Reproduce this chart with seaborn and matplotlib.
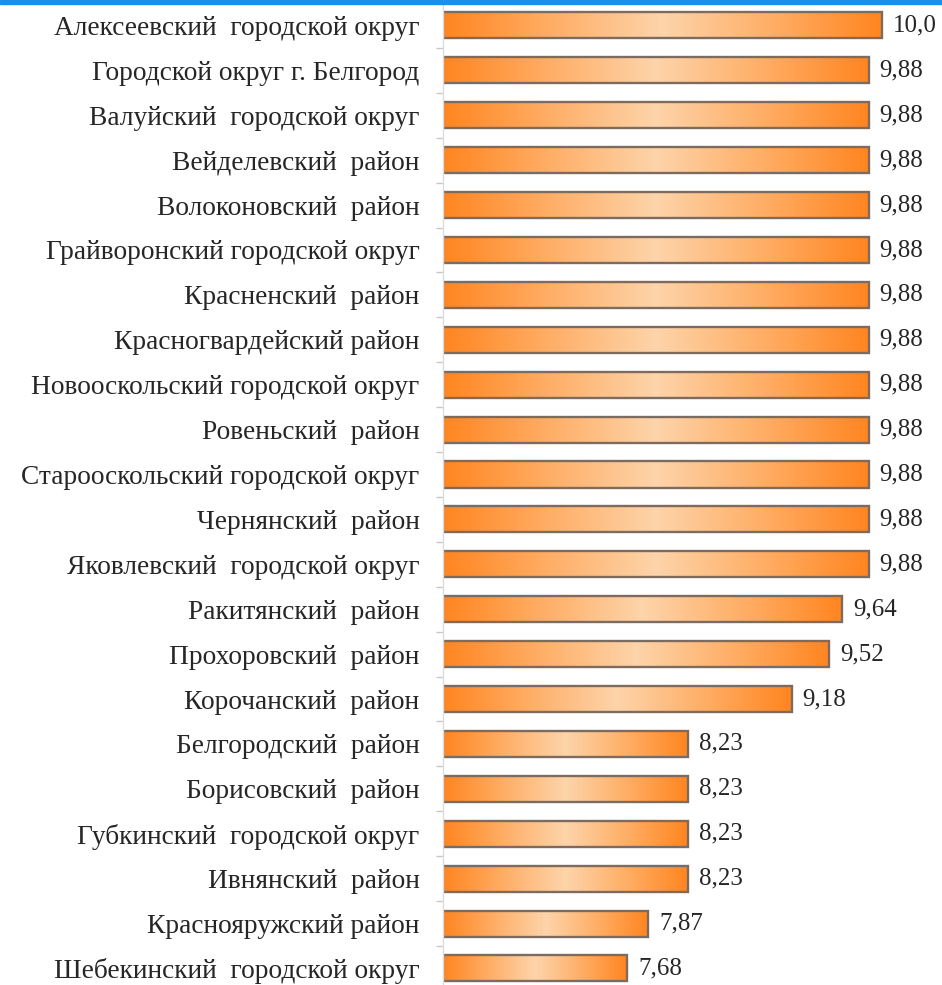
import numpy as np
import pandas as pd
import seaborn as sns
import matplotlib.pyplot as plt
from matplotlib.colors import LinearSegmentedColormap

districts = [
    "Алексеевский  городской округ",
    "Городской округ г. Белгород",
    "Валуйский  городской округ",
    "Вейделевский  район",
    "Волоконовский  район",
    "Грайворонский городской округ",
    "Красненский  район",
    "Красногвардейский район",
    "Новооскольский городской округ",
    "Ровеньский  район",
    "Старооскольский городской округ",
    "Чернянский  район",
    "Яковлевский  городской округ",
    "Ракитянский  район",
    "Прохоровский  район",
    "Корочанский  район",
    "Белгородский  район",
    "Борисовский  район",
    "Губкинский  городской округ",
    "Ивнянский  район",
    "Краснояружский район",
    "Шебекинский  городской округ",
]
scores = [10.0, 9.88, 9.88, 9.88, 9.88, 9.88, 9.88, 9.88, 9.88, 9.88, 9.88,
          9.88, 9.88, 9.64, 9.52, 9.18, 8.23, 8.23, 8.23, 8.23, 7.87, 7.68]
score_labels = ["10,0"] + [f"{v:.2f}".replace(".", ",") for v in scores[1:]]
x_start = 6.0

df = pd.DataFrame({"district": districts, "score": scores})

sns.set_theme(style="white")
plt.rcParams["font.family"] = ["Liberation Serif", "DejaVu Serif"]

fig = plt.figure(figsize=(9.42, 9.85), dpi=100)
ax = fig.add_axes([443 / 942, -0.006, 1 - 443 / 942, 1 - 3 / 985 + 0.006])

sns.barplot(data=df, y="district", x="score", orient="h", ax=ax,
            color="#ff8c2a", width=0.58, edgecolor="#7d6b5f", linewidth=1.7)

# horizontal orange gradient inside each bar (bars start at the axis, x=6)
grad = LinearSegmentedColormap.from_list(
    "orng", ["#ff8520", "#ffae66", "#fdd4aa", "#ffae66", "#ff8520"])
g = np.linspace(0, 1, 256).reshape(1, -1)
for bar in ax.patches:
    w = bar.get_width()
    bar.set_x(x_start)
    bar.set_width(w - x_start)
    y0, h = bar.get_y(), bar.get_height()
    im = ax.imshow(g, cmap=grad, aspect="auto",
                   extent=[x_start, w, y0 + h, y0],
                   zorder=bar.get_zorder() + 0.1)
    im.set_clip_path(bar)
    bar.set_facecolor("none")
    bar.set_zorder(bar.get_zorder() + 0.2)
ax.set_xlim(x_start, 10.55)
ax.set_ylim(len(districts) - 0.5, -0.5)
ax.set_xlabel("")
ax.set_ylabel("")
ax.set_xticks([])

for i, (v, lab) in enumerate(zip(scores, score_labels)):
    ax.text(v + 0.1, i, lab, va="center", ha="left", fontsize=18, color="#262626")

ax.tick_params(axis="y", labelsize=19.7, colors="#262626", length=0, pad=17)
ax.set_yticks(np.arange(len(districts) - 1) + 0.5, minor=True)
ax.tick_params(axis="y", which="minor", length=5, color="#c8c8c8", width=1, left=True)

for s in ["top", "right", "bottom"]:
    ax.spines[s].set_visible(False)
ax.spines["left"].set_color("#dcdcdc")
ax.spines["left"].set_linewidth(1)

# blue band across the top edge
fig.patches.append(plt.Rectangle((0, 1 - 4 / 985), 1, 4 / 985, transform=fig.transFigure,
                                 color="#1e8fe8", zorder=10))

fig.savefig("out.png", dpi=100)
